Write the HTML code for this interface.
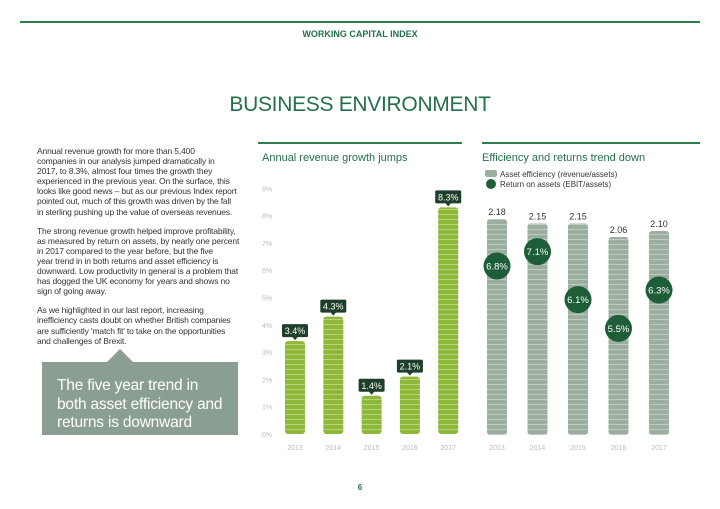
<!DOCTYPE html>
<html><head><meta charset="utf-8"><style>
body{margin:0;width:720px;height:509px;background:#fff;font-family:"Liberation Sans",sans-serif;position:relative;overflow:hidden}
.abs{position:absolute}
p{margin:0}
</style></head><body>
<div class="abs" style="left:20px;top:21px;width:680px;height:2px;background:#2e7d4a"></div>
<div class="abs" style="left:0;width:720px;top:29px;text-align:center;font-size:9px;font-weight:bold;color:#24704a">WORKING CAPITAL INDEX</div>
<div class="abs" style="left:0;width:720px;top:93px;text-align:center;font-size:21px;color:#24704a;letter-spacing:-0.3px">BUSINESS ENVIRONMENT</div>
<div class="abs" style="left:37px;top:146px;width:220px;font-size:8.5px;line-height:10.1px;color:#333;letter-spacing:-0.15px;white-space:nowrap">
<p>Annual revenue growth for more than 5,400<br>companies in our analysis jumped dramatically in<br>2017, to 8.3%, almost four times the growth they<br>experienced in the previous year. On the surface, this<br>looks like good news – but as our previous Index report<br>pointed out, much of this growth was driven by the fall<br>in sterling pushing up the value of overseas revenues.</p>
<p style="margin-top:9px">The strong revenue growth helped improve profitability,<br>as measured by return on assets, by nearly one percent<br>in 2017 compared to the year before, but the five<br>year trend in in both returns and asset efficiency is<br>downward. Low productivity in general is a problem that<br>has dogged the UK economy for years and shows no<br>sign of going away.</p>
<p style="margin-top:9px">As we highlighted in our last report, increasing<br>inefficiency casts doubt on whether British companies<br>are sufficiently 'match fit' to take on the opportunities<br>and challenges of Brexit.</p>
</div>
<div class="abs" style="left:107px;top:349px;width:0;height:0;border-left:13px solid transparent;border-right:13px solid transparent;border-bottom:13px solid #8a9f91"></div>
<div class="abs" style="left:42px;top:362px;width:196px;height:73px;background:#8a9f91;color:#fff;font-size:15.5px;line-height:18.5px;padding:15px 8px 0 15px;box-sizing:border-box;letter-spacing:-0.2px">The five year trend in both asset efficiency and returns is downward</div>
<div class="abs" style="left:0;width:720px;top:483px;text-align:center;font-size:8px;font-weight:bold;color:#24704a">6</div>
<svg class="abs" style="left:0;top:0" width="720" height="509" id="charts">
<defs>
<pattern id="stripeG" width="4" height="5" patternUnits="userSpaceOnUse"><rect width="4" height="5" fill="#8db83a"/><rect y="4" width="4" height="0.8" fill="#c3dc88"/></pattern>
<pattern id="stripeS" width="4" height="5" patternUnits="userSpaceOnUse"><rect width="4" height="5" fill="#9bae9f"/><rect y="4" width="4" height="0.8" fill="#c6d2c8"/></pattern>
</defs>
<rect x="258" y="142" width="204" height="2" fill="#2e7d4a"/>
<text x="262" y="161" font-size="11" fill="#24704a">Annual revenue growth jumps</text>
<rect x="482" y="142" width="218" height="2" fill="#2e7d4a"/>
<text x="482" y="161" font-size="11" fill="#24704a">Efficiency and returns trend down</text>
<g>
<rect x="485" y="170" width="12" height="7" rx="2" fill="#9bae9f"/>
<text x="500" y="177" font-size="8" fill="#333">Asset efficiency (revenue/assets)</text>
<circle cx="491" cy="184" r="5" fill="#1d5e38"/>
<text x="500" y="187" font-size="8" fill="#333">Return on assets (EBIT/assets)</text>
</g>
</svg>
<script>
const years = ["2013","2014","2015","2016","2017"];
const revenueGrowth = [3.4, 4.3, 1.4, 2.1, 8.3];
const yTicks = [0,1,2,3,4,5,6,7,8,9];
const assetEfficiency = [2.18, 2.15, 2.15, 2.06, 2.10];
const returnOnAssets = [6.8, 7.1, 6.1, 5.5, 6.3];

const svg = document.getElementById('charts');
const NS = 'http://www.w3.org/2000/svg';
function mk(tag, attrs, text){const e=document.createElementNS(NS,tag);for(const k in attrs)e.setAttribute(k,attrs[k]);if(text!==undefined)e.textContent=text;svg.appendChild(e);return e;}

const y1 = v => 434 - v*27.3;
const x1 = i => 295 + i*38.3;
yTicks.forEach(t=>{
  const e = mk('text',{x:262,y:y1(t)+3,'font-size':7,fill:'#bbb'},t+'%');
  
  
});
revenueGrowth.forEach((v,i)=>{
  const cx=x1(i), top=y1(v);
  const b = mk('rect',{x:cx-10,y:top,width:20,height:434-top,rx:3,fill:'url(#stripeG)'});
  
  
  const box = mk('rect',{x:cx-13,y:top-17,width:26,height:13,rx:1.5,fill:'#1e3f2a'});
  
  
  mk('path',{d:`M${cx-3} ${top-4.5}L${cx+3} ${top-4.5}L${cx} ${top-1}Z`,fill:'#1e3f2a'});
  const t = mk('text',{x:cx,y:top-7,'font-size':9,fill:'#fff','text-anchor':'middle'},v.toFixed(1)+'%');
  
  
  const yl = mk('text',{x:cx,y:450,'font-size':7,fill:'#bbb','text-anchor':'middle'},years[i]);
  
  
});

const y2 = v => 435 - (v-0.74)*150;
const yr = v => 266 - (v-6.8)*48;
const x2 = i => 497 + i*40.5;
assetEfficiency.forEach((v,i)=>{
  const cx=x2(i), top=y2(v);
  const b = mk('rect',{x:cx-10,y:top,width:20,height:435-top,rx:3,fill:'url(#stripeS)'});
  
  
  const t = mk('text',{x:cx,y:top-4,'font-size':9,fill:'#333','text-anchor':'middle'},v.toFixed(2));
  
  
  const yl = mk('text',{x:cx,y:450,'font-size':7,fill:'#bbb','text-anchor':'middle'},years[i]);
  
  
});
returnOnAssets.forEach((v,i)=>{
  const cx=x2(i), cy=yr(v);
  const c = mk('circle',{cx:cx,cy:cy,r:13.5,fill:'#1d5e38'});
  
  
  const t = mk('text',{x:cx,y:cy+3.5,'font-size':9.5,fill:'#fff','text-anchor':'middle'},v.toFixed(1)+'%');
  
  
});
</script>
</body></html>
